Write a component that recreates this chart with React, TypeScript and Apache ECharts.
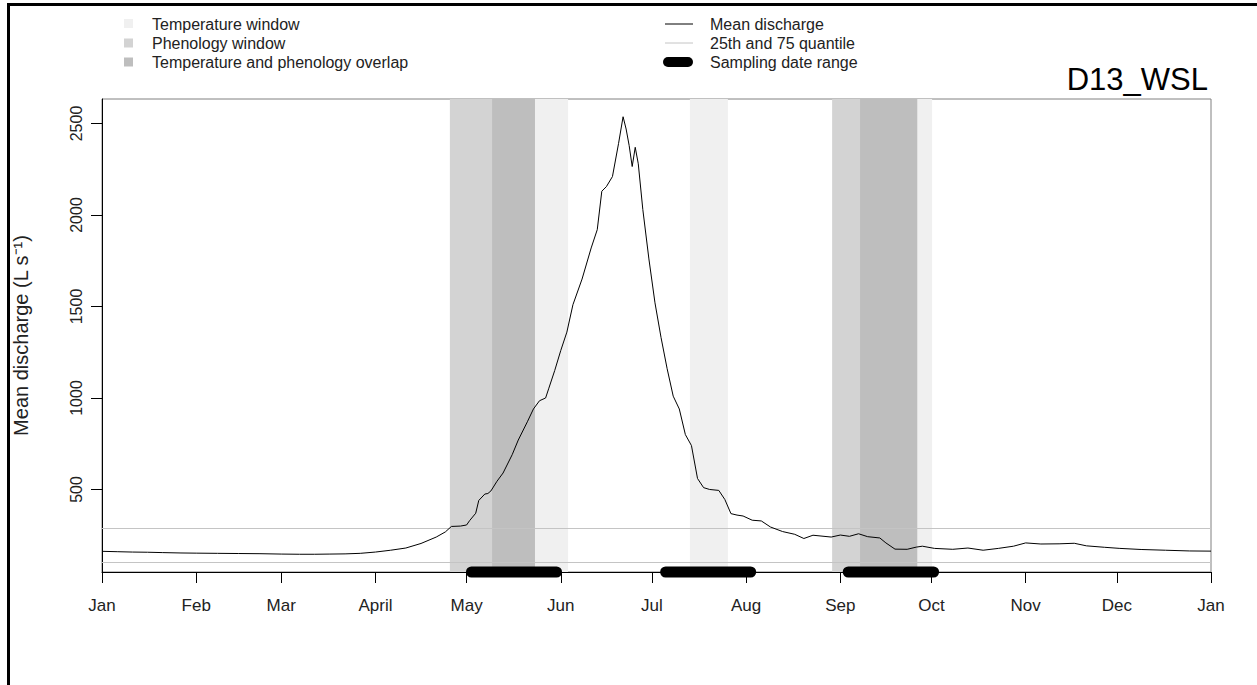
import React, { useEffect, useRef } from "react";
import * as echarts from "echarts";

const monthTicks = [0, 31, 59, 90, 120, 151, 181, 212, 243, 273, 304, 334, 365];
const monthLabels = ["Jan", "Feb", "Mar", "April", "May", "Jun", "Jul", "Aug", "Sep", "Oct", "Nov", "Dec", "Jan"];
const yTicks = [500, 1000, 1500, 2000, 2500];

const dischargeDays = [
  0, 5, 10, 15, 20, 26, 31, 38, 45, 52, 59, 65, 70, 75, 80, 85, 90, 95, 100, 105, 110, 113, 115, 118, 120, 121, 123, 124, 126, 127, 128,
  130, 132, 135, 137, 140, 142, 144, 146, 147, 149, 151, 153, 155, 158, 161, 163, 164.5, 166, 168, 170, 171.5,
  172.5, 173.5, 174.5, 175.5, 176.5, 178, 180, 182, 184, 186, 188, 190, 192, 194, 196, 198, 200, 203, 205, 207,
  209, 211, 214, 217, 220, 224, 228, 231, 234, 240, 243, 246, 249, 252, 256, 258, 261, 265, 268, 270,
  274, 280, 285, 290, 295, 300, 304, 309, 315, 320, 324, 330, 335, 342, 350, 358, 365,
];
const dischargeValues = [
  162, 160, 158, 157, 155, 153, 152, 151, 150, 149, 147, 146, 146, 147, 148, 151, 158, 168, 180, 205, 240, 268, 298, 300, 306, 330, 370, 440, 475, 478, 492,
  545, 590, 690, 770, 870, 940, 985, 1000, 1050, 1150, 1260, 1360, 1510, 1650, 1820, 1920, 2130, 2155, 2210, 2390, 2537,
  2470, 2380, 2265, 2370, 2280, 2030, 1760, 1520, 1330, 1160, 1010, 940, 800, 740, 560, 510, 500, 495, 445, 368,
  360, 355, 332, 328, 295, 270, 255, 232, 250, 240, 251, 244, 258, 242, 235, 208, 174, 173, 185, 190,
  178, 173, 180, 168, 178, 190, 208, 202, 203, 206, 192, 184, 178, 172, 168, 164, 163,
];

const quantileValues = [104, 290];
const temperatureWindows = [[128.4, 153.4], [193.5, 206.0], [249.5, 273.2]];
const phenologyWindows = [[114.5, 142.5], [240.3, 268.3]];
const overlapWindows = [[128.4, 142.5], [249.5, 268.3]];
const samplingRanges = [[121.6, 149.6], [185.5, 213.5], [245.6, 273.7]];
const correlationLabels = ["0.27", "0.32", "0.41"];
const correlationDays = [135.3, 198.8, 259.4];
const correlationLevel = 2492;

const Y_MIN = 49;
const Y_MAX = 2634;
const FONT = "'Liberation Sans', Arial, sans-serif";

export default function App() {
  const ref = useRef<HTMLDivElement>(null);
  useEffect(() => {
    if (!ref.current) return;
    const chart = echarts.init(ref.current, undefined, { renderer: "svg" });

    const bandSeries = (name: string, windows: number[][], color: string, z: number) => ({
      name,
      type: "line",
      data: [],
      z,
      silent: true,
      markArea: {
        silent: true,
        itemStyle: { color, opacity: 1 },
        data: windows.map((w) => [{ xAxis: w[0] }, { xAxis: w[1] }]),
      },
    });

    const samplingSeries = samplingRanges.map((r, i) => ({
      name: "sampling" + i,
      type: "line",
      data: [[r[0], Y_MIN], [r[1], Y_MIN]],
      symbol: "none",
      clip: false,
      z: 10,
      silent: true,
      lineStyle: { color: "#000", width: 11, cap: "round" },
    }));

    const option: any = {
      animation: false,
      textStyle: { fontFamily: FONT },
      grid: {
        left: 102,
        top: 99,
        right: 46,
        bottom: 113,
        show: true,
        borderColor: "#808080",
        borderWidth: 1,
        backgroundColor: "transparent",
      },
      xAxis: {
        type: "value",
        min: 0,
        max: 365,
        axisLine: { show: true, onZero: false, lineStyle: { color: "#000", width: 1 } },
        axisTick: { show: true, length: 11, customValues: monthTicks, lineStyle: { color: "#000" } },
        axisLabel: {
          customValues: monthTicks,
          margin: 25,
          fontSize: 17,
          color: "#222",
          fontFamily: FONT,
          formatter: (v: number) => monthLabels[monthTicks.indexOf(v)] ?? "",
        },
        splitLine: { show: false },
      },
      yAxis: {
        type: "value",
        min: Y_MIN,
        max: Y_MAX,
        name: "Mean discharge (L s\u207B\u00B9)",
        nameLocation: "middle",
        nameRotate: 90,
        nameGap: 71,
        nameTextStyle: { fontSize: 20, color: "#222", fontFamily: FONT },
        axisLine: { show: true, onZero: false, lineStyle: { color: "#000", width: 1 } },
        axisTick: { show: true, length: 11, customValues: yTicks, lineStyle: { color: "#000" } },
        axisLabel: {
          customValues: yTicks,
          rotate: 90,
          margin: 18,
          fontSize: 16,
          color: "#222",
          fontFamily: FONT,
          formatter: (v: number) => String(v),
        },
        splitLine: { show: false },
      },
      series: [
        bandSeries("Temperature window", temperatureWindows, "#f0f0f0", 1),
        bandSeries("Phenology window", phenologyWindows, "#d3d3d3", 2),
        bandSeries("Temperature and phenology overlap", overlapWindows, "#bebebe", 3),
        {
          name: "25th and 75 quantile",
          type: "line",
          data: [],
          z: 4,
          silent: true,
          markLine: {
            silent: true,
            symbol: "none",
            label: { show: false },
            lineStyle: { color: "#c4c4c4", width: 1, type: "solid" },
            data: quantileValues.map((q) => ({ yAxis: q })),
          },
        },
        {
          name: "Mean discharge",
          type: "line",
          data: dischargeDays.map((d, i) => [d, dischargeValues[i]]),
          symbol: "none",
          z: 5,
          silent: true,
          lineStyle: { color: "#000", width: 1 },
        },
        ...samplingSeries,
        {
          name: "labels",
          type: "scatter",
          data: correlationDays.map((d, i) => [d, correlationLevel, correlationLabels[i]]),
          symbolSize: 1,
          itemStyle: { opacity: 0 },
          z: 6,
          silent: true,
          label: {
            show: true,
            position: "inside",
            formatter: (p: any) => p.value[2],
            fontSize: 17,
            color: "#222",
            fontFamily: FONT,
          },
        },
      ],
      graphic: [
        { type: "line", shape: { x1: 8.5, y1: 3, x2: 8.5, y2: 685 }, style: { stroke: "#000", lineWidth: 3 } },
        { type: "line", shape: { x1: 7, y1: 4.5, x2: 1257, y2: 4.5 }, style: { stroke: "#000", lineWidth: 3 } },
        // left legend
        { type: "rect", shape: { x: 124, y: 19, width: 9, height: 9 }, style: { fill: "#f0f0f0" } },
        { type: "rect", shape: { x: 124, y: 38.5, width: 9, height: 9 }, style: { fill: "#d3d3d3" } },
        { type: "rect", shape: { x: 124, y: 57.5, width: 9, height: 9 }, style: { fill: "#bebebe" } },
        { type: "text", x: 152, y: 24, style: { text: "Temperature window", fontSize: 16, fontFamily: FONT, fill: "#222", verticalAlign: "middle" } },
        { type: "text", x: 152, y: 43, style: { text: "Phenology window", fontSize: 16, fontFamily: FONT, fill: "#222", verticalAlign: "middle" } },
        { type: "text", x: 152, y: 62, style: { text: "Temperature and phenology overlap", fontSize: 16, fontFamily: FONT, fill: "#222", verticalAlign: "middle" } },
        // right legend
        { type: "line", shape: { x1: 665, y1: 24, x2: 693, y2: 24 }, style: { stroke: "#000", lineWidth: 1 } },
        { type: "line", shape: { x1: 665, y1: 43, x2: 693, y2: 43 }, style: { stroke: "#c4c4c4", lineWidth: 1 } },
        { type: "line", shape: { x1: 668, y1: 62, x2: 688, y2: 62 }, style: { stroke: "#000", lineWidth: 10, lineCap: "round" } },
        { type: "text", x: 710, y: 24, style: { text: "Mean discharge", fontSize: 16, fontFamily: FONT, fill: "#222", verticalAlign: "middle" } },
        { type: "text", x: 710, y: 43, style: { text: "25th and 75 quantile", fontSize: 16, fontFamily: FONT, fill: "#222", verticalAlign: "middle" } },
        { type: "text", x: 710, y: 62, style: { text: "Sampling date range", fontSize: 16, fontFamily: FONT, fill: "#222", verticalAlign: "middle" } },
        // title
        { type: "text", x: 1208, y: 95, style: { text: "D13_WSL", fontSize: 31, fontFamily: FONT, fill: "#000", align: "right", verticalAlign: "bottom" } },
      ],
    };
    chart.setOption(option);
    return () => chart.dispose();
  }, []);
  return (
    <div
      ref={ref}
      style={{ position: "fixed", left: 0, top: 0, width: 1257, height: 685, background: "#fff" }}
    />
  );
}
